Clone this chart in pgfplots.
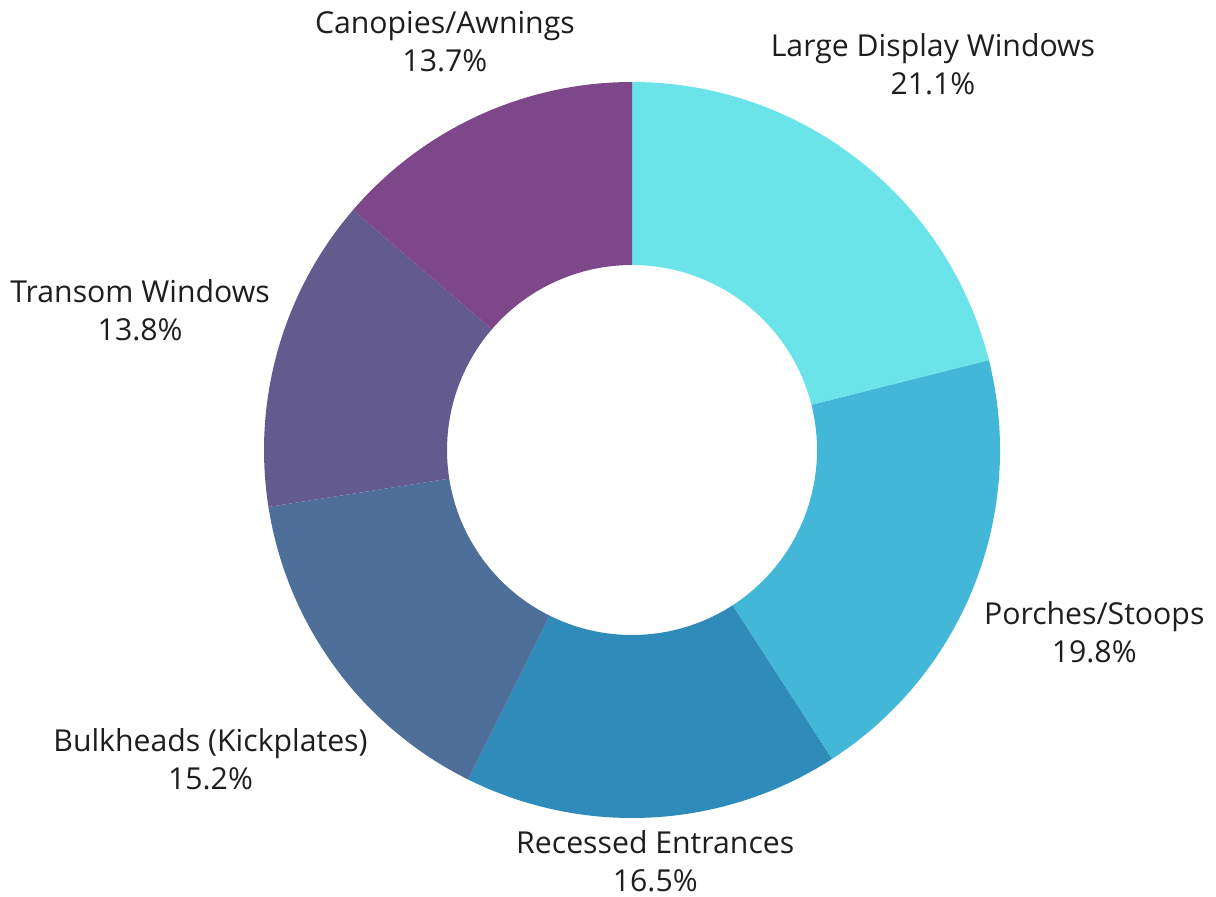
\documentclass[border=0pt]{standalone}
\usepackage{pgfplots}
\pgfplotsset{compat=1.18}
\usepackage{pgfplotstable}
\usepackage{fontspec}
\setmainfont{Open Sans}

\definecolor{cLarge}{HTML}{6AE4E8}
\definecolor{cPorch}{HTML}{42B7D7}
\definecolor{cRecess}{HTML}{2E8BBA}
\definecolor{cBulk}{HTML}{4E6F9A}
\definecolor{cTransom}{HTML}{635A8E}
\definecolor{cCanopy}{HTML}{7E4789}
\definecolor{txt}{HTML}{1E1E1E}

% share (%), slice colour, label distance (in outer radii)
\pgfplotstableread[col sep=comma]{
label,value,color,dist
Large Display Windows,21.1,cLarge,1.33
Porches/Stoops,19.8,cPorch,1.35
Recessed Entrances,16.5,cRecess,1.12
Bulkheads (Kickplates),15.2,cBulk,1.42
Transom Windows,13.8,cTransom,1.39
Canopies/Awnings,13.7,cCanopy,1.22
}\piedata

\begin{document}
\begin{tikzpicture}
\begin{axis}[
    hide axis,
    scale only axis,
    width=12.16cm, height=8.96cm,
    xmin=0, xmax=1216, ymin=0, ymax=896,
    clip=false,
]
\path (axis cs:0,0) rectangle (axis cs:1216,896);
\pgfplotsextra{
  \xdef\acc{90}
  \foreach \i in {0,...,5}{
    \pgfplotstablegetelem{\i}{value}\of\piedata \let\sval\pgfplotsretval
    \pgfplotstablegetelem{\i}{color}\of\piedata \let\scol\pgfplotsretval
    \pgfplotstablegetelem{\i}{label}\of\piedata \let\slab\pgfplotsretval
    \pgfplotstablegetelem{\i}{dist}\of\piedata \let\sdist\pgfplotsretval
    \pgfmathsetmacro\aa{\acc}
    \pgfmathsetmacro\ab{\acc-360*\sval/100.1}
    \pgfmathsetmacro\am{(\aa+\ab)/2}
    \fill[\scol] (axis cs:{632+368*cos(\aa)},{446+368*sin(\aa)})
        arc[start angle=\aa, end angle=\ab, radius=3.68cm]
        -- (axis cs:{632+185*cos(\ab)},{446+185*sin(\ab)})
        arc[start angle=\ab, end angle=\aa, radius=1.85cm] -- cycle;
    \node[overlay, align=center, text=txt, font=\fontsize{8.6}{10.8}\selectfont]
        at (axis cs:{632+368*\sdist*cos(\am)},{446+368*\sdist*sin(\am)})
        {\slab\\\sval\%};
    \xdef\acc{\ab}
  }
}
\end{axis}
\end{tikzpicture}
\end{document}
